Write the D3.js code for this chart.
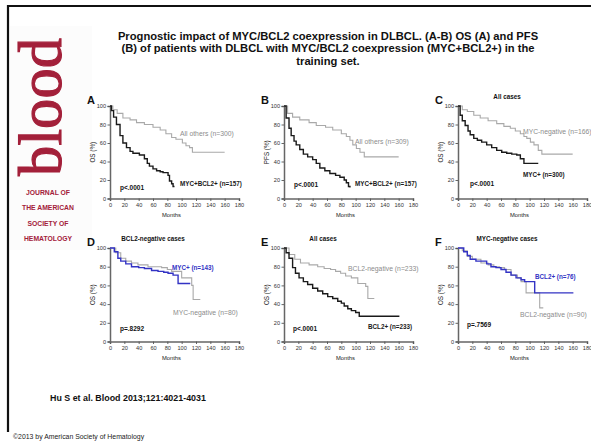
<!DOCTYPE html>
<html><head><meta charset="utf-8">
<script src="https://cdn.jsdelivr.net/npm/d3@7"></script>
<style>
html,body{margin:0;padding:0;background:#fff;}
svg{display:block;font-family:"Liberation Sans",Arial,sans-serif;}
</style></head>
<body><svg id="c" width="591" height="444"></svg>
<script>
// ---------- data ----------
const titleLines = [
  "Prognostic impact of MYC/BCL2 coexpression in DLBCL. (A-B) OS (A) and PFS",
  "(B) of patients with DLBCL with MYC/BCL2 coexpression (MYC+BCL2+) in the",
  "training set."
];
const logoLines = ["JOURNAL OF", "THE AMERICAN", "SOCIETY OF", "HEMATOLOGY"];
const xTicks = [0, 20, 40, 60, 80, 100, 120, 140, 160, 180];
const yTicks = [0, 20, 40, 60, 80, 100];
const panelLetters = ["A", "B", "C", "D", "E", "F"];
const panelTitles = ["", "", "All cases", "BCL2-negative cases", "All cases", "MYC-negative cases"];
const yLabels = ["OS (%)", "PFS (%)", "OS (%)", "OS (%)", "OS (%)", "OS (%)"];
const pValues = ["p<.0001", "p<.0001", "p<.0001", "p=.8292", "p<.0001", "p=.7569"];

// A
const aOthersT = [0,4,10,18,28,37,48,60,70,78,86,92,101,106,111,115,160];
const aOthersS = [100,96,92,87,85,82,80,77,74,70,66,64,60,57,55,50,50];
const aDualT = [0,2,5,9,14,18,23,28,32,41,48,52,55,60,65,70,74,81,83,86,88,90];
const aDualS = [100,95,88,80,68,60,55,51,49,47,43,38,35,32,30,29,28,25,19,16,13,13];
// B
const bOthersT = [0,5,12,22,35,45,58,68,80,87,92,96,101,106,112,160];
const bOthersS = [100,92,88,85,82,79,77,74,70,67,63,58,54,50,45,45];
const bDualT = [0,3,7,10,14,17,22,27,33,40,45,50,57,64,72,78,84,87,90,92];
const bDualS = [100,87,76,68,62,58,53,48,45,42,38,33,30,27,25,23,20,17,13,12];
// C
const cNegT = [0,6,13,22,31,42,54,64,73,80,87,92,96,101,106,112,117,160];
const cNegS = [100,96,94,90,87,84,81,78,76,73,70,67,65,61,58,52,48,48];
const cPosT = [0,3,6,10,14,17,22,27,33,40,47,54,61,68,75,82,87,92,112];
const cPosS = [100,90,84,79,73,69,65,63,61,58,55,52,50,49,48,47,43,38,38];
// D
const dPosT = [0,6,11,15,22,30,40,48,58,67,75,81,88,95,112];
const dPosS = [100,96,89,86,83,80,79,78,76,75,74,73,71,62,62];
const dNegT = [0,8,15,22,30,39,53,62,72,80,86,95,100,114,116,126];
const dNegS = [100,95,89,86,84,82,80,80,79,77,75,75,68,60,45,45];
// E
const eNegT = [0,7,15,23,35,47,56,65,72,79,86,94,103,114,117,126];
const eNegS = [100,93,88,84,82,80,78,77,75,73,70,68,62,59,46,46];
const ePosT = [0,3,7,12,16,21,27,33,40,47,54,61,68,75,80,84,89,94,100,105,161];
const ePosS = [100,95,89,79,73,68,64,61,57,54,51,48,46,43,41,38,35,33,31,27,27];
// F
const fPosT = [0,8,13,17,25,32,40,46,53,60,67,74,81,88,93,107,161];
const fPosS = [100,96,92,88,86,86,83,80,79,77,74,71,68,66,64,52,52];
const fNegT = [0,6,13,20,32,42,50,58,65,74,83,88,95,107,114,119];
const fNegS = [100,97,91,88,84,82,80,79,77,71,68,64,52,52,36,36];

const seriesLabels = [
  ["All others (n=300)", "MYC+BCL2+ (n=157)"],
  ["All others (n=309)", "MYC+BCL2+ (n=157)"],
  ["MYC-negative (n=166)", "MYC+ (n=300)"],
  ["MYC-negative (n=80)", "MYC+ (n=143)"],
  ["BCL2-negative (n=233)", "BCL2+ (n=233)"],
  ["BCL2-negative (n=90)", "BCL2+ (n=76)"]
];

// ---------- layout ----------
const GRAY = "#a9a9a9", BLACK = "#1a1a1a", BLUE = "#3333c4", RED = "#a3203a";
const colX = [110, 284, 458], plotW = 129;
const rowY = [[106, 198.5], [248, 341.5]];

const panels = [
  {series: [[aOthersT, aOthersS, GRAY], [aDualT, aDualS, BLACK]],
   labels: [[180, 134, GRAY, 400], [180, 184, BLACK, 700]], p: [120, 188]},
  {series: [[bOthersT, bOthersS, GRAY], [bDualT, bDualS, BLACK]],
   labels: [[355, 142, GRAY, 400], [355, 184, BLACK, 700]], p: [294, 185]},
  {series: [[cNegT, cNegS, GRAY], [cPosT, cPosS, BLACK]],
   labels: [[523, 132, GRAY, 400], [523, 175, BLACK, 700]], p: [470, 184], title: 507},
  {series: [[dNegT, dNegS, GRAY], [dPosT, dPosS, BLUE]],
   labels: [[173, 313, GRAY, 400], [172, 268, BLUE, 700]], p: [120, 329], title: 153},
  {series: [[eNegT, eNegS, GRAY], [ePosT, ePosS, BLACK]],
   labels: [[348, 269, GRAY, 400], [368, 327, BLACK, 700]], p: [293, 329], title: 323},
  {series: [[fNegT, fNegS, GRAY], [fPosT, fPosS, BLUE]],
   labels: [[520, 315, GRAY, 400], [535, 277, BLUE, 700]], p: [467, 325], title: 507}
];

const svg = d3.select("#c");

// frame
svg.append("rect").attr("x", 0).attr("y", 0).attr("width", 591).attr("height", 444).attr("fill", "#fff");
svg.append("rect").attr("x", 10).attr("y", 26).attr("width", 82).attr("height", 224).attr("fill", "#fcfcfc");
svg.append("line").attr("x1", 7).attr("x2", 591).attr("y1", 6).attr("y2", 6).attr("stroke", "#111").attr("stroke-width", 2.2);
svg.append("line").attr("x1", 8).attr("x2", 8).attr("y1", 5).attr("y2", 432).attr("stroke", "#111").attr("stroke-width", 2.2);

// logo
svg.append("text").attr("transform", "translate(61,176) rotate(-90)")
  .attr("font-family", "'Liberation Serif','DejaVu Serif',serif")
  .attr("font-size", 61).attr("fill", RED)
  .attr("stroke", RED).attr("stroke-width", 1.1)
  .attr("textLength", 138).attr("lengthAdjust", "spacingAndGlyphs")
  .text("blood");
svg.selectAll(".logoline").data(logoLines).enter().append("text")
  .attr("x", 48).attr("y", (d, i) => 194.5 + i * 15.5)
  .attr("text-anchor", "middle").attr("font-size", 6.8).attr("font-weight", 700)
  .attr("fill", RED).text(d => d);

// title
svg.selectAll(".title").data(titleLines).enter().append("text")
  .attr("x", 328).attr("y", (d, i) => 40 + i * 12.3)
  .attr("text-anchor", "middle").attr("font-size", 11.2).attr("font-weight", 700)
  .attr("fill", "#111").text(d => d);

// panels
panels.forEach((p, i) => {
  const x0 = colX[i % 3];
  const [yTop, yBot] = rowY[Math.floor(i / 3)];
  const x = d3.scaleLinear().domain([0, 180]).range([x0, x0 + plotW]);
  const y = d3.scaleLinear().domain([0, 100]).range([yBot, yTop]);
  const g = svg.append("g");

  const ax = g.append("g").attr("transform", `translate(0,${yBot})`)
    .call(d3.axisBottom(x).tickValues(xTicks).tickSize(2.5).tickPadding(2));
  const ay = g.append("g").attr("transform", `translate(${x0},0)`)
    .call(d3.axisLeft(y).tickValues(yTicks).tickSize(2.5).tickPadding(1.5));
  [ax, ay].forEach(a => {
    a.select(".domain").attr("stroke", "#666").attr("stroke-width", 1.5);
    a.selectAll(".tick line").attr("stroke", "#555").attr("stroke-width", 0.9);
    a.selectAll(".tick text").attr("font-size", 5.6).attr("fill", "#333")
      .attr("font-family", "'Liberation Sans',Arial,sans-serif");
  });

  g.append("text").attr("x", x0 + plotW / 2 - 3).attr("y", yBot + 18)
    .attr("text-anchor", "middle").attr("font-size", 5.8).attr("fill", "#222").text("Months");
  g.append("text").attr("transform", `translate(${x0 - 15},${(yTop + yBot) / 2}) rotate(-90)`)
    .attr("text-anchor", "middle").attr("font-size", 6.3).attr("fill", "#222").text(yLabels[i]);

  g.append("text").attr("x", x0 - 23).attr("y", yTop - 2)
    .attr("font-size", 11).attr("font-weight", 700).attr("fill", "#111").text(panelLetters[i]);
  if (panelTitles[i]) {
    g.append("text").attr("x", p.title).attr("y", yTop - 7)
      .attr("text-anchor", "middle").attr("font-size", 6.3).attr("font-weight", 700)
      .attr("fill", "#111").text(panelTitles[i]);
  }

  const line = d3.line().x(d => x(d[0])).y(d => y(d[1])).curve(d3.curveStepAfter);
  p.series.forEach(([T, S, col]) => {
    const pts = T.map((t, k) => [t, S[k]]);
    g.append("path").attr("d", line(pts)).attr("fill", "none")
      .attr("stroke", col).attr("stroke-width", col === GRAY ? 1.1 : 1.4);
  });

  p.labels.forEach((l, k) => {
    g.append("text").attr("x", l[0]).attr("y", l[1] + 2.2)
      .attr("font-size", l[3] === 700 ? 6.3 : 6.8).attr("font-weight", l[3])
      .attr("fill", l[2] === GRAY ? "#8c8c8c" : l[2])
      .text(seriesLabels[i][k]);
  });
  g.append("text").attr("x", p.p[0]).attr("y", p.p[1] + 2.2)
    .attr("font-size", 6.5).attr("font-weight", 700).attr("fill", "#111").text(pValues[i]);
});

// citation
svg.append("text").attr("x", 50).attr("y", 401).attr("font-size", 8.9).attr("font-weight", 700)
  .attr("fill", "#111").text("Hu S et al. Blood 2013;121:4021-4031");
svg.append("text").attr("x", 13).attr("y", 439).attr("font-size", 6.9)
  .attr("fill", "#222").text("©2013 by American Society of Hematology");
</script></body></html>
